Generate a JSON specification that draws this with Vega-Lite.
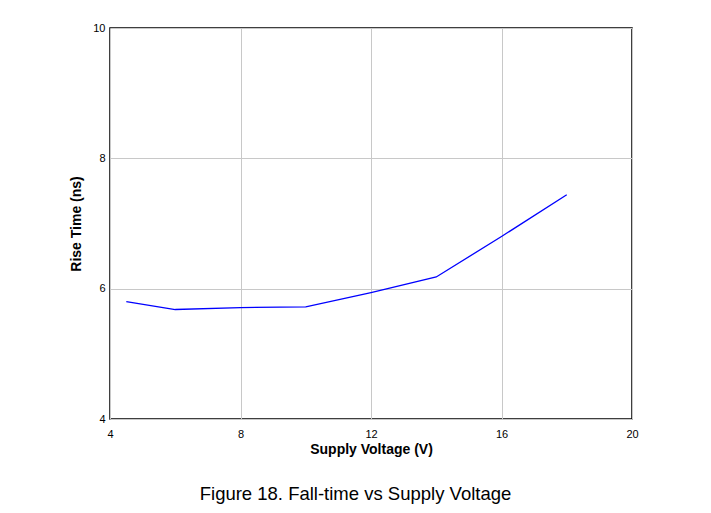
{
  "$schema": "https://vega.github.io/schema/vega-lite/v6.json",
  "width": 522,
  "height": 391,
  "autosize": {"type": "none"},
  "padding": {"left": 110, "top": 28, "right": 79, "bottom": 94},
  "background": "white",
  "title": {
    "text": "Figure 18. Fall-time vs Supply Voltage",
    "orient": "bottom",
    "anchor": "middle",
    "font": "Liberation Sans",
    "fontSize": 18.5,
    "fontWeight": "normal",
    "color": "black",
    "offset": 29,
    "dx": -15.5
  },
  "data": {
    "values": [
      {"v": 4.5, "t": 5.80},
      {"v": 6, "t": 5.68},
      {"v": 8, "t": 5.71},
      {"v": 10, "t": 5.72},
      {"v": 12, "t": 5.94},
      {"v": 14, "t": 6.18},
      {"v": 16, "t": 6.80},
      {"v": 18, "t": 7.44}
    ]
  },
  "mark": {"type": "line", "color": "#0000ff", "strokeWidth": 1.3},
  "encoding": {
    "x": {
      "field": "v",
      "type": "quantitative",
      "scale": {"domain": [4, 20], "nice": false, "zero": false},
      "axis": {"values": [4, 8, 12, 16, 20], "title": "Supply Voltage (V)", "labelPadding": 9, "titlePadding": 3}
    },
    "y": {
      "field": "t",
      "type": "quantitative",
      "scale": {"domain": [4, 10], "nice": false, "zero": false},
      "axis": {"values": [4, 6, 8, 10], "title": "Rise Time (ns)", "labelPadding": 5, "titlePadding": 9}
    }
  },
  "config": {
    "view": {"stroke": "black", "strokeWidth": 1.5},
    "axis": {
      "domain": false,
      "ticks": false,
      "grid": true,
      "gridColor": "#c8c8c8",
      "gridWidth": 1,
      "gridOpacity": 1,
      "labelFlush": false,
      "labelFont": "Liberation Sans",
      "labelFontSize": 11,
      "labelColor": "black",
      "titleFont": "Liberation Sans",
      "titleFontSize": 14,
      "titleFontWeight": "bold",
      "titleColor": "black"
    }
  }
}
